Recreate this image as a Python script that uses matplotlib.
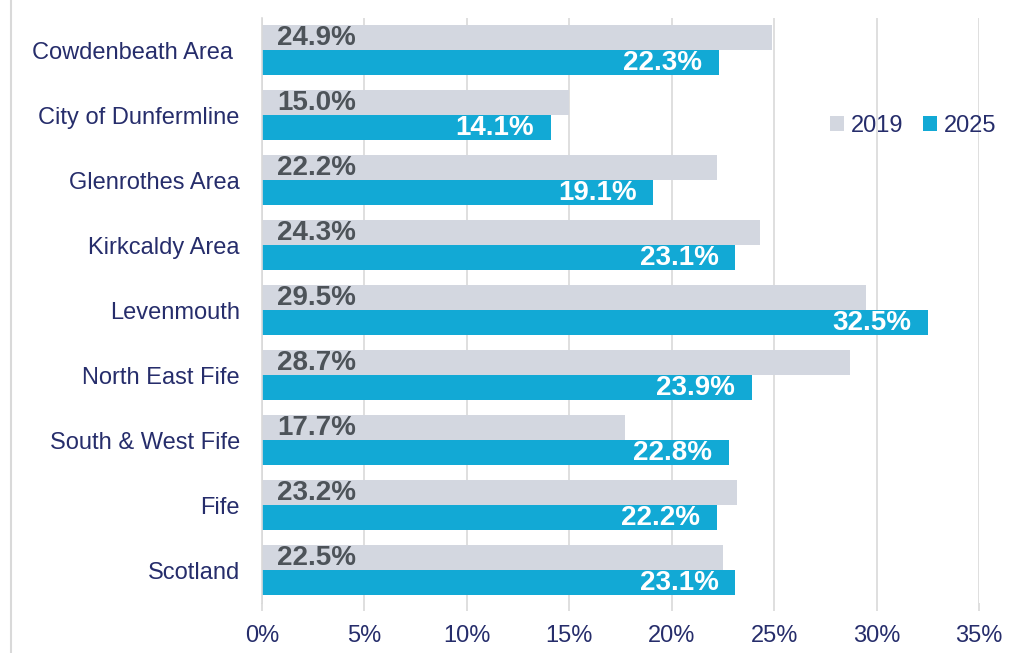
import matplotlib.pyplot as plt
from matplotlib.lines import Line2D
import numpy as np

plt.rcParams['font.family'] = ['Liberation Sans', 'DejaVu Sans']

areas = ["Cowdenbeath Area ", "City of Dunfermline", "Glenrothes Area", "Kirkcaldy Area",
         "Levenmouth", "North East Fife", "South & West Fife", "Fife", "Scotland"]
vals_2019 = [24.9, 15.0, 22.2, 24.3, 29.5, 28.7, 17.7, 23.2, 22.5]
vals_2025 = [22.3, 14.1, 19.1, 23.1, 32.5, 23.9, 22.8, 22.2, 23.1]
x_ticks = [0, 5, 10, 15, 20, 25, 30, 35]

grey = "#d3d7e0"
blue = "#12a9d5"
navy = "#262d6b"
label_grey = "#4d5359"

fig = plt.figure(figsize=(10.22, 6.53), dpi=100)
ax = fig.add_axes([0.2564, 0.0773, 0.7016, 0.8957])

y = np.arange(len(areas))
h = 0.385
b1 = ax.barh(y - h / 2, vals_2019, height=h, color=grey, label="2019", zorder=2)
b2 = ax.barh(y + h / 2, vals_2025, height=h, color=blue, label="2025", zorder=2)

# labels sit inside the bars: 2019 at the base, 2025 at the end
for rect, v in zip(b1, vals_2019):
    ax.annotate(f"{v:.1f}%", xy=(0, rect.get_y() + rect.get_height() / 2),
                xytext=(11, 0), textcoords="offset points", ha="left", va="center",
                fontsize=20, fontweight="bold", color=label_grey, zorder=3)
for rect, v in zip(b2, vals_2025):
    ax.annotate(f"{v:.1f}%", xy=(rect.get_width(), rect.get_y() + rect.get_height() / 2),
                xytext=(-12, 0), textcoords="offset points", ha="right", va="center",
                fontsize=20, fontweight="bold", color="white", zorder=3)

ax.set_ylim(len(areas) - 0.5, -0.5)
ax.set_xlim(0, 35)
ax.set_yticks(y)
ax.set_yticklabels(areas, fontsize=17, color=navy)
ax.set_xticks(x_ticks)
ax.set_xticklabels([f"{t}%" for t in x_ticks], fontsize=17, color=navy)
ax.tick_params(axis="y", length=0, pad=16)
ax.tick_params(axis="x", length=6, color="#d9d9d9", width=1.2, pad=10)
ax.grid(axis="x", color="#d9d9d9", linewidth=1.2, zorder=0)
for s in ["top", "right", "bottom"]:
    ax.spines[s].set_visible(False)
ax.spines["left"].set_color("#d9d9d9")
ax.spines["left"].set_linewidth(1.2)

ax.legend(loc="center right", bbox_to_anchor=(0.975, 0.807), bbox_transform=fig.transFigure,
          ncol=2, frameon=False, borderpad=0, borderaxespad=0,
          fontsize=17, labelcolor=navy, handlelength=0.6, handleheight=0.6,
          handletextpad=0.3, columnspacing=0.8)

fig.add_artist(Line2D([0.0108, 0.0108], [0, 1], color="#d9d9d9", linewidth=1.5))

fig.savefig("out.png", dpi=100)
